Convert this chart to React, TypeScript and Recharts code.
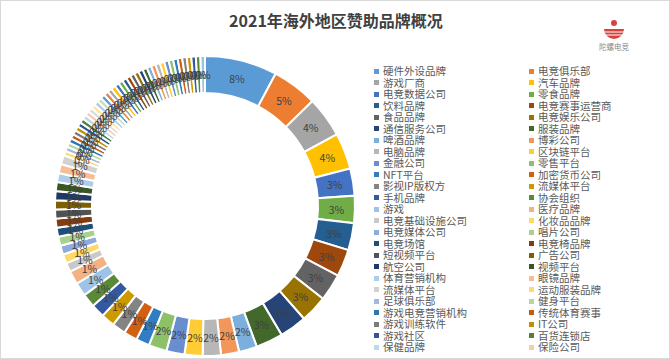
import { PieChart, Pie, Cell } from 'recharts'

// legend names (the reference legend is cut off after 50 entries)
const categories = [
  '硬件外设品牌', '电竞俱乐部', '游戏厂商', '汽车品牌', '电竞数据公司', '零食品牌',
  '饮料品牌', '电竞赛事运营商', '食品品牌', '电竞娱乐公司', '通信服务公司', '服装品牌',
  '啤酒品牌', '博彩公司', '电脑品牌', '区块链平台', '金融公司', '零售平台',
  'NFT平台', '加密货币公司', '影视IP版权方', '流媒体平台', '手机品牌', '协会组织',
  '游戏', '医疗品牌', '电竞基础设施公司', '化妆品品牌', '电竞媒体公司', '唱片公司',
  '电竞场馆', '电竞椅品牌', '短视频平台', '广告公司', '航空公司', '视频平台',
  '体育营销机构', '眼镜品牌', '流媒体平台', '运动服装品牌', '足球俱乐部', '健身平台',
  '游戏电竞营销机构', '传统体育赛事', '游戏训练软件', 'IT公司', '游戏社区', '百货连锁店',
  '保健品牌', '保险公司',
]

// sponsor counts per category
const topCounts = [16, 10, 9, 8, 6, 6, 6, 6, 6, 6, 6, 6]
const midCounts = [4, 4, 4, 4, 4, 4]
const smallCounts = [3, 3, 3, 3, 3, 3, 3, 3]
const oneCounts = [2, 2, 2, 2, 2, 2, 2, 2, 2, 2, 2, 2, 2]
const tailCounts = [
  1, 1, 1, 1, 1, 1, 1, 1, 1, 1, 1, 1, 1, 1, 1, 1, 1, 1, 1, 1,
  1, 1, 1, 1, 1, 1, 1, 1, 1, 1, 1, 1, 1, 1, 1, 1, 1, 1, 1, 1,
]

const palette = [
  '#5B9BD5', '#ED7D31', '#A5A5A5', '#FFC000', '#4472C4', '#70AD47',
  '#255E91', '#9E480E', '#636363', '#997300', '#264478', '#43682B',
  '#7CAFDD', '#F1975A', '#B7B7B7', '#FFCD33', '#698ED0', '#8CC168',
  '#327DC2', '#D26012', '#848484', '#CC9A00', '#335AA1', '#5A8A39',
  '#9DC3E6', '#F4B183', '#C9C9C9', '#FFD966', '#8FAADC', '#A9D18E',
  '#1F4E79', '#843C0C', '#525252', '#7F6000', '#203864', '#385723',
  '#ADCDEA', '#F6BE98', '#D2D2D2', '#FFDC70', '#A2B8E1', '#B5D79F',
  '#2E75B6', '#C55A11', '#7B7B7B', '#BF9000', '#2F5597', '#548235',
  '#BDD7EE', '#F8CBAD', '#DBDBDB', '#FFE699', '#B4C7E7', '#C5E0B4',
]

const counts = [...topCounts, ...midCounts, ...smallCounts, ...oneCounts, ...tailCounts]
const data = counts.map((v, i) => ({ name: categories[i] ?? `其他${i + 1}`, value: v }))

const RAD = Math.PI / 180
const font = '"Noto Sans CJK SC", "Noto Sans", sans-serif'

function renderLabel(props: any) {
  const { cx, cy, midAngle, innerRadius, outerRadius, percent } = props
  const r = (innerRadius + outerRadius) / 2
  const x = cx + r * Math.cos(-midAngle * RAD)
  const y = cy + r * Math.sin(-midAngle * RAD)
  return (
    <text x={x} y={y} textAnchor="middle" dominantBaseline="central" fontSize={10.5} fill="#404040" fontFamily={font}>
      {`${Math.round(percent * 100)}%`}
    </text>
  )
}

export default function App() {
  const rows = Math.ceil(categories.length / 2)
  return (
    <div
      style={{
        position: 'absolute', left: 0, top: 0, width: 670, height: 359,
        background: '#fff', border: '1px solid #D9D9D9', boxSizing: 'border-box', fontFamily: font,
      }}
    >
      <div
        style={{
          position: 'absolute', left: 0, top: 7, width: 670, textAlign: 'center',
          fontSize: 16, fontWeight: 'bold', color: '#404040',
        }}
      >
        2021年海外地区赞助品牌概况
      </div>

      <svg style={{ position: 'absolute', left: 595, top: 14 }} width={45} height={42}>
        <circle cx={18} cy={8} r={3} fill="#D8413E" />
        <path d="M8,14 A10,10 0 0 0 28,14 Z" fill="#D8413E" />
        <line x1={8} y1={17} x2={28} y2={17} stroke="#fff" strokeWidth={1} />
        <line x1={9} y1={20} x2={27} y2={20} stroke="#fff" strokeWidth={1} />
        <text x={18} y={35} textAnchor="middle" fontSize={7.5} fill="#888" fontFamily={font}>陀螺电竞</text>
      </svg>

      <div style={{ position: 'absolute', left: 0, top: 0 }}>
        <PieChart width={400} height={359}>
          <Pie
            data={data}
            dataKey="value"
            nameKey="name"
            cx={199}
            cy={200}
            innerRadius={113}
            outerRadius={150}
            startAngle={90}
            endAngle={-270}
            stroke="#fff"
            strokeWidth={2}
            label={renderLabel}
            labelLine={false}
            isAnimationActive={false}
          >
            {data.map((d, i) => (
              <Cell key={d.name + i} fill={palette[i % palette.length]} />
            ))}
          </Pie>
        </PieChart>
      </div>

      {categories.map((name, i) => {
        const col = i % 2
        const row = Math.floor(i / 2)
        const left = col === 0 ? 373 : 528
        const top = 70 + row * ((346 - 70) / (rows - 1))
        return (
          <div
            key={name + i}
            style={{
              position: 'absolute', left, top: top - 7, height: 14, display: 'flex', alignItems: 'center',
              fontSize: 10.5, color: '#595959', whiteSpace: 'nowrap', lineHeight: '14px',
            }}
          >
            <span style={{ width: 5, height: 5, background: palette[i % palette.length], marginRight: 4, display: 'inline-block' }} />
            {name}
          </div>
        )
      })}
    </div>
  )
}
